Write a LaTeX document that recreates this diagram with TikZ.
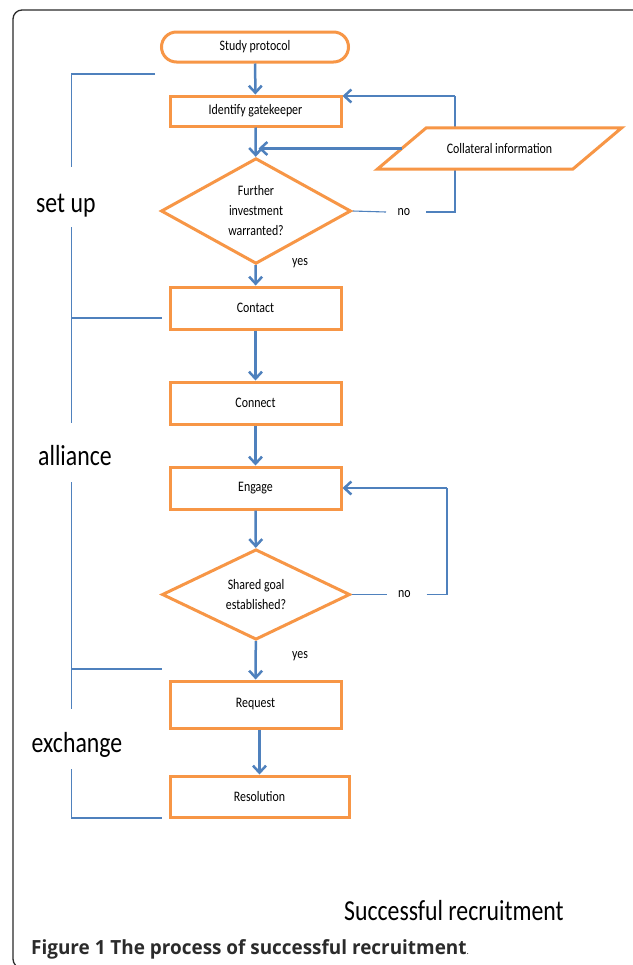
\documentclass[tikz,border=0pt]{standalone}
\usepackage{fontspec}
\setmainfont{Carlito}[FakeStretch=0.82]
\newfontfamily\capfont{Open Sans}[FakeStretch=0.97]
\usetikzlibrary{shapes.geometric,arrows.meta,calc}
\pgfdeclarelayer{background}
\pgfsetlayers{background,main}
\definecolor{orng}{HTML}{F79646}
\definecolor{blu}{HTML}{4F81BD}
\definecolor{frm}{HTML}{2B2B2B}
\tikzset{
  sm/.style={font=\fontsize{14.5bp}{20bp}\selectfont},
  big/.style={font=\fontsize{29bp}{32bp}\selectfont},
  procbox/.style={draw=orng,line width=3bp,fill=white,sm,minimum width=171bp,inner sep=0pt},
  decbox/.style={draw=orng,line width=3bp,fill=white,diamond,sm,align=center,inner sep=0pt},
  flow/.style={draw=blu,line width=2.5bp,-{Straight Barb[length=7bp,width=13bp,line width=2.5bp]}},
  thinl/.style={draw=blu,line width=1.1bp},
  lbl/.style={sm,inner sep=0pt}
}
\begin{document}
\begin{tikzpicture}[x=1bp,y=-1bp]
\useasboundingbox (0,0) rectangle (633,965);
\begin{pgfonlayer}{background}
\fill[white] (0,0) rectangle (633,965);
\end{pgfonlayer}
\draw[frm,line width=1.3bp,rounded corners=9bp] (13,10) rectangle (642,968);

% nodes
\node[draw=orng,line width=3bp,fill=white,sm,rounded corners=15bp,minimum width=187bp,minimum height=30bp,inner sep=0pt] (sp) at (255,47) {Study protocol};
\node[procbox,minimum height=30bp] (ig) at (255.5,111) {Identify gatekeeper};
\node[sm,minimum width=195bp,minimum height=41bp,inner sep=0pt] (ci) at (499.5,148.5) {};
\draw[orng,line width=3bp,fill=white] ([xshift=-24.5bp]ci.south west) -- ([xshift=-24.5bp]ci.south east) -- ([xshift=24.5bp]ci.north east) -- ([xshift=24.5bp]ci.north west) -- cycle;
\node[sm,inner sep=0pt] (citext) at (ci.center) {Collateral information};
\node[decbox,minimum width=190bp,minimum height=82bp] (d1) at (256,211) {Further\\investment\\warranted?};
\node[procbox,minimum height=42bp] (ct) at (255.5,308) {Contact};
\node[procbox,minimum height=42bp] (cn) at (255.5,403) {Connect};
\node[procbox,minimum height=42bp] (en) at (255.5,488) {Engage};
\node[decbox,minimum width=188bp,minimum height=83bp] (d2) at (256,594.5) {Shared goal\\established?};
\node[procbox,minimum height=47bp] (rq) at (255.5,704.5) {Request};
\node[procbox,minimum width=179bp,minimum height=41bp] (rs) at (259.5,796.5) {Resolution};

\node[lbl] (no1) at (404,212) {no};
\node[lbl] (no2) at (404.5,594.5) {no};
\node[lbl] (yes1) at (300,263) {yes};
\node[lbl] (yes2) at (300,656) {yes};

\node[big,anchor=base west,inner sep=0pt] (su) at (36,212) {set up};
\node[big,anchor=base west,inner sep=0pt] (al) at (38,465) {alliance};
\node[big,anchor=base west,inner sep=0pt] (ex) at (31.5,752) {exchange};
\node[big,anchor=base west,inner sep=0pt] (sr) at (344,920) {Successful recruitment};
\node[anchor=base west,inner sep=0pt,font=\capfont\fontsize{19.5bp}{22bp}\selectfont,text=frm] (cap) at (31,954) {\bfseries Figure 1 The process of successful recruitment\mdseries\fontsize{9bp}{9bp}\selectfont.};

% main flow
\draw[flow] (sp) -- (ig);
\draw[flow] (ig) -- (d1);
\draw[flow] (ci.west) -- ([xshift=3bp]ig.south |- ci.west);
\draw[flow] (d1) -- (ct);
\draw[flow] (ct) -- (cn);
\draw[flow] (cn) -- (en);
\draw[flow] (en) -- (d2);
\draw[flow] (d2) -- (rq);
\draw[flow] (rs.north |- rq.south) -- (rs.north);

% no loops
\coordinate (c1) at (455,96);
\coordinate (c2) at (447,488);
\begin{pgfonlayer}{background}
\draw[thinl] (d1.east) -- ([xshift=-18bp]no1.center);
\draw[thinl] ([xshift=22bp]no1.center) -| (c1);
\end{pgfonlayer}
\draw[flow] (c1) -- (ig.east |- c1);
\draw[thinl] (d2.east) -- ([xshift=-18bp]no2.center);
\draw[thinl] ([xshift=22bp]no2.center) -| (c2);
\draw[flow] (c2) -- (en.east);

% brackets
\coordinate (b0) at (71.5,74);
\draw[thinl] (155,74) -- (b0) -- (71.5,167);
\draw[thinl] (71.5,227) -- (71.5,423);
\draw[thinl] (71.5,318) -- (161.5,318);
\draw[thinl] (71.5,482) -- (71.5,709);
\draw[thinl] (71.5,669) -- (161.5,669);
\draw[thinl] (71.5,769) -- (71.5,818) -- (161.5,818);
\end{tikzpicture}
\end{document}
